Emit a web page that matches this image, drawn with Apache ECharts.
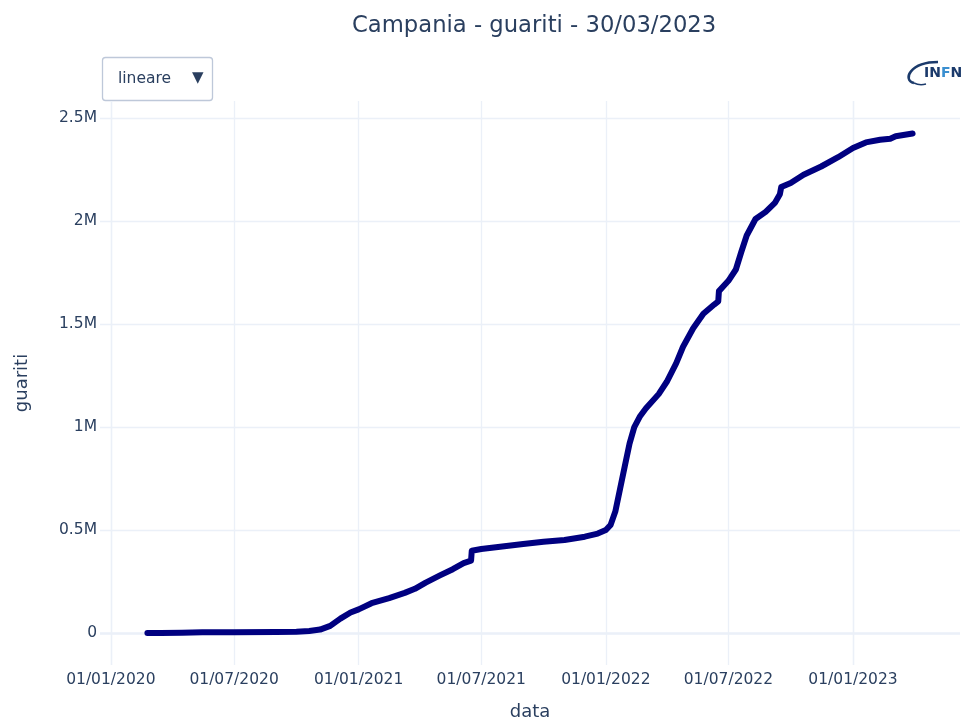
<!DOCTYPE html>
<html>
<head>
<meta charset="utf-8">
<script src="https://cdn.jsdelivr.net/npm/echarts@6/dist/echarts.min.js"></script>
<style>
  html, body { margin: 0; padding: 0; background: #fff; }
  #chart { width: 965px; height: 728px; }
</style>
</head>
<body>
<div id="chart"></div>
<script>
// recovered people in Campania
var dates = [
  '2020-02-24', '2020-03-15', '2020-04-15', '2020-05-15', '2020-07-01', '2020-09-01',
  '2020-10-01', '2020-10-20', '2020-11-05', '2020-11-20', '2020-12-05', '2020-12-20',
  '2021-01-01', '2021-01-20', '2021-02-15', '2021-03-10', '2021-03-25', '2021-04-10',
  '2021-05-01', '2021-05-20', '2021-06-05', '2021-06-16', '2021-06-17', '2021-07-01',
  '2021-08-01', '2021-09-01', '2021-10-01', '2021-11-01', '2021-12-01', '2021-12-20',
  '2022-01-01', '2022-01-08', '2022-01-15', '2022-01-22', '2022-01-29', '2022-02-05',
  '2022-02-12', '2022-02-20', '2022-03-01', '2022-03-20', '2022-04-01', '2022-04-15',
  '2022-04-25', '2022-05-10', '2022-05-25', '2022-06-10', '2022-06-16', '2022-06-17',
  '2022-07-01', '2022-07-12', '2022-07-20', '2022-07-28', '2022-08-10', '2022-08-25',
  '2022-09-08', '2022-09-15', '2022-09-17', '2022-10-01', '2022-10-20', '2022-11-15',
  '2022-12-10', '2023-01-01', '2023-01-20', '2023-02-10', '2023-02-25', '2023-03-05',
  '2023-03-30'
];
var guariti = [
  0, 100, 1500, 3500, 4500, 5500,
  7000, 10000, 17000, 35000, 70000, 100000,
  115000, 145000, 170000, 195000, 215000, 245000,
  280000, 310000, 340000, 352000, 400000, 408000,
  420000, 432000, 443000, 452000, 468000, 483000,
  500000, 525000, 590000, 700000, 810000, 920000,
  1000000, 1050000, 1090000, 1160000, 1220000, 1310000,
  1390000, 1480000, 1550000, 1595000, 1610000, 1660000,
  1710000, 1765000, 1850000, 1930000, 2010000, 2045000,
  2090000, 2130000, 2165000, 2185000, 2225000, 2265000,
  2310000, 2355000, 2382000, 2395000, 2400000, 2412000,
  2425000
];
var xTicks = ['2020-01-01', '2020-07-01', '2021-01-01', '2021-07-01', '2022-01-01', '2022-07-01', '2023-01-01'];

var ink = '#2a3f5f';
var grid = '#EBF0F8';
var font = 'DejaVu Sans';

var tickValues = xTicks.map(function(d) { return echarts.number.parseDate(d).getTime(); });
var seriesData = dates.map(function(d, i) { return [d, guariti[i]]; });

var chart = echarts.init(document.getElementById('chart'), null, { renderer: 'canvas' });
chart.setOption({
  animation: false,
  backgroundColor: '#fff',
  textStyle: { fontFamily: font },
  title: {
    text: 'Campania - guariti - 30/03/2023',
    left: 347,
    top: 10,
    textStyle: { color: ink, fontSize: 22.7, fontWeight: 'normal', fontFamily: font }
  },
  grid: { left: 100, right: 5, top: 101, bottom: 63 },
  xAxis: {
    type: 'time',
    min: '2019-12-16',
    max: '2023-06-08',
    name: 'data',
    nameLocation: 'middle',
    nameGap: 38,
    nameTextStyle: { color: ink, fontSize: 18, fontFamily: font },
    axisLine: { show: false },
    axisTick: { show: false, customValues: tickValues },
    axisLabel: {
      customValues: tickValues,
      color: ink,
      fontSize: 15.5,
      fontFamily: font,
      margin: 7,
      formatter: '{dd}/{MM}/{yyyy}'
    },
    splitLine: { show: true, lineStyle: { color: grid, width: 1.3 } }
  },
  yAxis: {
    type: 'value',
    min: -155000,
    max: 2583000,
    name: 'guariti',
    nameLocation: 'middle',
    nameGap: 69,
    nameTextStyle: { color: ink, fontSize: 18, fontFamily: font },
    axisLine: { show: false },
    axisTick: { show: false },
    axisLabel: {
      color: ink,
      fontSize: 15.5,
      fontFamily: font,
      margin: 3,
      showMinLabel: false,
      showMaxLabel: false,
      formatter: function(v) { return v === 0 ? '0' : (v / 1e6) + 'M'; }
    },
    splitLine: { show: true, showMinLine: false, showMaxLine: false, lineStyle: { color: grid, width: 1.3 } }
  },
  series: [{
    type: 'line',
    data: seriesData,
    showSymbol: false,
    z: 3,
    lineStyle: { color: '#000080', width: 6, cap: 'round', join: 'round' },
    markLine: {
      silent: true,
      symbol: 'none',
      z: 1,
      label: { show: false },
      lineStyle: { color: grid, width: 2.6, type: 'solid' },
      data: [{ yAxis: 0 }]
    }
  }],
  graphic: [
    {
      type: 'rect',
      shape: { x: 102.5, y: 57.5, width: 110, height: 43, r: 3 },
      style: { fill: '#fff', stroke: '#BEC8D9', lineWidth: 1.3 }
    },
    {
      type: 'text',
      x: 118, y: 79,
      style: { text: 'lineare', fill: ink, font: '15.5px "DejaVu Sans"', verticalAlign: 'middle' }
    },
    {
      type: 'text',
      x: 192, y: 78,
      style: { text: '\u25BC', fill: ink, font: '15px "DejaVu Sans"', verticalAlign: 'middle' }
    },
    {
      type: 'bezierCurve',
      shape: { x1: 938, y1: 62, x2: 914, y2: 83, cpx1: 910, cpy1: 62, cpx2: 902, cpy2: 80 },
      style: { stroke: '#1b3a6b', lineWidth: 2.5, fill: null }
    },
    {
      type: 'bezierCurve',
      shape: { x1: 914, y1: 83, x2: 926, y2: 84, cpx1: 918, cpy1: 85, cpx2: 922, cpy2: 85 },
      style: { stroke: '#1b3a6b', lineWidth: 1.5, fill: null }
    },
    {
      type: 'text',
      x: 924, y: 73,
      style: {
        text: '{d|IN}{l|F}{d|N}',
        verticalAlign: 'middle',
        rich: {
          d: { fill: '#1b3a6b', fontSize: 14, fontWeight: 'bold', fontFamily: font },
          l: { fill: '#3a8fd0', fontSize: 14, fontWeight: 'bold', fontFamily: font }
        }
      }
    }
  ]
});

window.addEventListener('resize', function() { chart.resize(); });
</script>
</body>
</html>
